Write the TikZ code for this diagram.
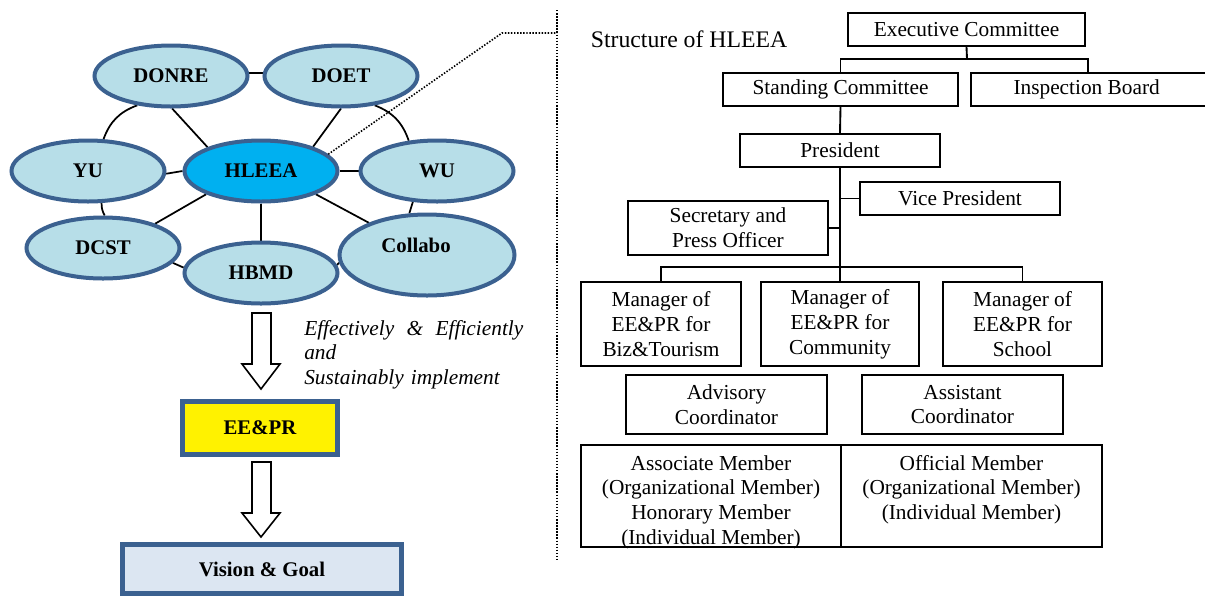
\documentclass[tikz,border=0pt]{standalone}
\usepackage{fontspec}
\setmainfont{Liberation Serif}
\usetikzlibrary{shapes.geometric,backgrounds}
\definecolor{eborder}{HTML}{3B6190}
\definecolor{efill}{HTML}{B7DEE8}
\definecolor{hfill}{HTML}{00B0F0}
\definecolor{vfill}{HTML}{DCE6F2}
\begin{document}
\begin{tikzpicture}[x=0.75pt,y=-0.75pt,
  ell/.style={ellipse, draw=eborder, line width=3pt, fill=efill,
    minimum width=114.75pt, minimum height=45.75pt, inner sep=0pt,
    font=\fontsize{15.6}{18}\selectfont\bfseries},
  link/.style={line width=1.3pt},
  dotline/.style={line width=1.2pt, dash pattern=on 1.1pt off 1.2pt},
  hollow/.style={draw, line width=1.2pt, fill=white, line join=miter},
  goalbox/.style={draw=eborder, line width=3.75pt, inner sep=0pt,
    font=\fontsize{15.6}{18}\selectfont\bfseries},
  obox/.style={draw, line width=1.4pt, inner sep=0pt, align=center,
    font=\fontsize{16}{18.6}\selectfont},
  conn/.style={line width=1.4pt}]
\useasboundingbox (0,0) rectangle (1205,597);

% ---------- left network ----------
\node[ell] (donre) at (171,76) {DONRE};
\node[ell] (doet) at (341,76) {DOET};
\node[ell] (yu) at (88,171) {YU};
\node[ell, fill=hfill] (hleea) at (261,171) {HLEEA};
\node[ell] (wu) at (437,171) {WU};
\node[ell] (dcst) at (103,248) {DCST};
\node[ell] (hbmd) at (261,273) {HBMD};
\node[ell, minimum width=131.25pt, minimum height=60.75pt] (collabo) at (427,255) {};
\node[font=\fontsize{15.6}{18}\selectfont\bfseries, inner sep=0pt] (collabotext) at (416,245) {Collabo};

\begin{scope}[on background layer]
\draw[link] (donre.2) -- (doet.178);
\draw[link] (donre.221) to[bend right=25] (yu.64);
\draw[link] (donre.-88) -- (hleea.156);
\draw[link] (doet.-90) -- (hleea.25);
\draw[link] (doet.-41) to[bend left=25] (wu.133);
\draw[link] (yu.-2) -- (hleea.180);
\draw[link] (hleea.0) -- (wu.180);
\draw[link] (yu.-67) to[bend right=15] (dcst.87);
\draw[link] (hleea.203) -- (dcst.25);
\draw[link] (hleea.-90) -- (hbmd.90);
\draw[link] (hleea.-23.5) -- (collabo.151);
\draw[link] (dcst.-12) -- (hbmd.176);
\draw[link] (hbmd.6) -- (collabo.185);
\draw[link] (wu.-128) -- (collabo.113);
\end{scope}

% dotted leader
\coordinate (c1) at (502,33);
\coordinate (c2) at (557,33);
\coordinate (vtop) at (557,10);
\coordinate (vbot) at (557,560);
\draw[dotline] (hleea.14) -- (c1) -- (c2);
\draw[dotline] (vtop) -- (vbot);

% ---------- arrows and goal boxes ----------
\draw[hollow] (252,313) -- (271,313) -- (271,364) -- (280,364) -- (261,389) -- (242,364) -- (252,364) -- cycle;
\node[goalbox, fill=yellow, minimum width=116.25pt, minimum height=39.75pt] (eepr) at (260,428) {EE\&PR};
\draw[hollow] (252,462) -- (271,462) -- (271,513) -- (280,513) -- (261,537) -- (242,513) -- (252,513) -- cycle;
\node[goalbox, fill=vfill, minimum width=209.25pt, minimum height=36.75pt] (vision) at (262,569) {Vision \& Goal};

\node[anchor=north west, inner sep=0pt, align=left, text width=164.25pt,
  font=\fontsize{16}{18.4}\selectfont\itshape] (howtext) at (304,320)
  {Effectively\hfill\&\hfill Efficiently\\and\\Sustainably implement};

% ---------- right org chart ----------
\node[font=\fontsize{17.8}{20}\selectfont, inner sep=0pt] (title) at (689,39) {Structure of HLEEA};

\node[obox, minimum width=177.75pt, minimum height=24.75pt] (exec) at (966.5,29.5) {Executive Committee};
\node[obox, minimum width=176.25pt, minimum height=24.75pt] (standing) at (840.5,89.5) {Standing Committee};
\node[obox, minimum width=178.5pt, minimum height=24.75pt] (inspect) at (1090,89.5) {\hspace*{-5pt}Inspection Board};
\node[obox, minimum width=150pt, minimum height=24.75pt] (president) at (840,150.5) {President};
\node[obox, minimum width=150pt, minimum height=24.75pt] (vice) at (960,198.5) {Vice President};
\node[obox, minimum width=150pt, minimum height=40.5pt] (secretary) at (728,228) {Secretary and\\Press Officer};
\node[obox, minimum width=120pt, minimum height=63pt] (biz) at (661,324) {Manager of\\EE\&PR for\\Biz\&Tourism};
\node[obox, minimum width=118.5pt, minimum height=63pt] (community) at (840,324) {Manager of\\EE\&PR for\\Community};
\node[obox, minimum width=119.25pt, minimum height=63pt] (school) at (1022.5,324) {Manager of\\EE\&PR for\\School};
\node[obox, minimum width=150.75pt, minimum height=44.25pt] (advisory) at (726.5,404.5) {Advisory\\Coordinator};
\node[obox, minimum width=150.75pt, minimum height=44.25pt] (assistant) at (962.5,404.5) {Assistant\\Coordinator};
\node[obox, text depth=0pt, minimum width=195pt, minimum height=76.5pt] (associate) at (711,496) {\rule{0pt}{17pt}Associate Member\\(Organizational Member)\\Honorary Member\\(Individual Member)};
\node[obox, text depth=0pt, minimum width=195.75pt, minimum height=76.5pt] (official) at (971.5,496) {\rule{0pt}{17pt}Official Member\\(Organizational Member)\\(Individual Member)\\~};

\coordinate (j1) at (967,59);
\coordinate (bar) at (840,267);
\draw[conn] (exec.south) -- (j1);
\draw[conn] (standing.north) |- (j1) -| (1088,73);
\draw[conn] (standing.south) -- (president.north);
\draw[conn] (president.south) -- (bar);
\draw[conn] (vice.west) -- (vice.west -| president.south);
\draw[conn] (secretary.east) -- (secretary.east -| president.south);
\draw[conn] (biz.north) |- (bar) -| (school.north);
\draw[conn] (bar) -- (community.north);
\end{tikzpicture}
\end{document}
